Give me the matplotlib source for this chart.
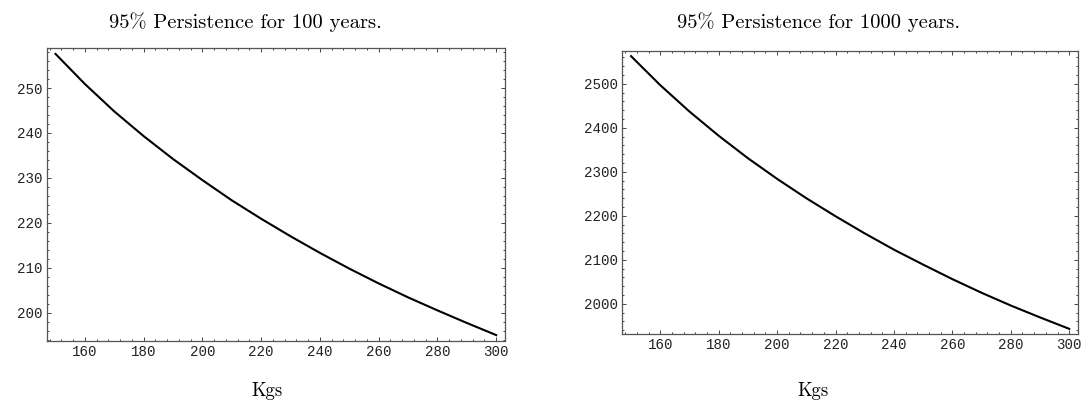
import matplotlib
matplotlib.use("Agg")
from matplotlib import pyplot as plt
from matplotlib.ticker import MultipleLocator
import numpy as np

# Kgs values along x and the two persistence curves
kgs = [150, 160, 170, 180, 190, 200, 210, 220, 230, 240, 250, 260, 270, 280, 290, 300]
years100 = [257.6, 250.9, 244.8, 239.3, 234.2, 229.5, 225.0, 220.9, 217.0, 213.3,
            209.8, 206.5, 203.4, 200.5, 197.7, 195.0]
years1000 = [2563, 2497, 2437, 2382, 2331, 2284, 2240, 2199, 2160, 2123,
             2089, 2056, 2025, 1996, 1969, 1943]

titles = ["95% Persistence for 100 years.", "95% Persistence for 1000 years."]
xlabel = "Kgs"

fig = plt.figure(figsize=(10.88, 4.04), dpi=100)
W, H = 1088.0, 404.0


def px_axes(x0, y0, x1, y1):
    # pixel box (top-left origin) -> figure fraction
    return fig.add_axes([x0 / W, 1 - y1 / H, (x1 - x0) / W, (y1 - y0) / H])


def style(ax, ymajor, yminor):
    ax.xaxis.set_major_locator(MultipleLocator(20))
    ax.xaxis.set_minor_locator(MultipleLocator(4))
    ax.yaxis.set_major_locator(MultipleLocator(ymajor))
    ax.yaxis.set_minor_locator(MultipleLocator(yminor))
    ax.tick_params(which="both", direction="in", top=True, right=True,
                   color="#444444", width=0.7)
    ax.tick_params(which="major", length=3.2, labelsize=10.2, pad=3,
                   labelcolor="#222222")
    ax.tick_params(which="minor", length=1.6)
    for lab in ax.get_xticklabels() + ax.get_yticklabels():
        lab.set_fontfamily("Liberation Mono")
    for s in ax.spines.values():
        s.set_color("#555555")
        s.set_linewidth(0.9)


ax1 = px_axes(46.7, 48.3, 505, 340.7)
ax1.plot(kgs, years100, color="black", lw=1.5)
ax1.set_xlim(147, 303)
ax1.set_ylim(193.75, 258.85)
style(ax1, 10, 2)

ax2 = px_axes(622.3, 50.7, 1078, 334.3)
ax2.plot(kgs, years1000, color="black", lw=1.5)
ax2.set_xlim(147, 303)
ax2.set_ylim(1930.6, 2575.4)
style(ax2, 100, 20)

fig.text(245 / W, 1 - 22 / H, titles[0], ha="center", va="center",
         fontfamily="cmr10", fontsize=14.8)
fig.text(819 / W, 1 - 22 / H, titles[1], ha="center", va="center",
         fontfamily="cmr10", fontsize=14.8)
fig.text(267 / W, 1 - 391 / H, xlabel, ha="center", va="center",
         fontfamily="cmr10", fontsize=13.5)
fig.text(813 / W, 1 - 391 / H, xlabel, ha="center", va="center",
         fontfamily="cmr10", fontsize=13.5)

fig.savefig("out.png", dpi=100)
